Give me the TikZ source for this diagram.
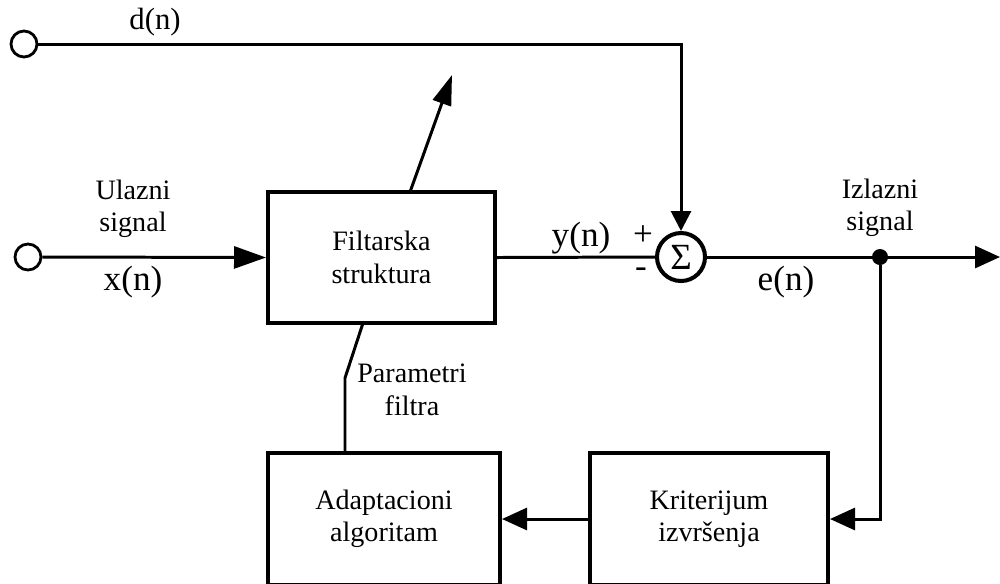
\documentclass[tikz,border=0pt]{standalone}
\usepackage{fontspec}
\setmainfont{Liberation Serif}
\usepackage{tikz}
\usetikzlibrary{arrows.meta, positioning}
\tikzstyle{block} = [rectangle, draw=black, line width=2.3pt, align=center, font=\fontsize{16}{18.5}\selectfont]
\tikzstyle{terminal} = [circle, draw=black, line width=1.6pt, minimum size=0.48cm, inner sep=0pt]
\tikzstyle{summer} = [circle, draw=black, line width=2.3pt, minimum size=0.96cm, inner sep=0pt, font=\fontsize{21}{21}\selectfont]
\tikzstyle{junction} = [circle, fill=black, minimum size=0.32cm, inner sep=0pt]
\tikzstyle{lbl} = [align=center, font=\fontsize{16}{18.5}\selectfont]
\tikzstyle{sig} = [font=\fontsize{20}{20}\selectfont]
\tikzstyle{sign} = [inner sep=0pt, font=\fontsize{20}{20}\selectfont]
\tikzstyle{line} = [line width=1.7pt]
\tikzstyle{arrow} = [line width=1.7pt, -{Triangle[length=0.5cm, width=0.44cm]}]

\begin{document}
\begin{tikzpicture}[x=0.02cm, y=-0.02cm]
\clip (0,0) rectangle (1000,583);

% Blocks
\node (filter) [block, minimum width=4.54cm, minimum height=2.62cm] at (381.5,257.5) {Filtarska\\struktura};
\node (adapt) [block, minimum width=4.64cm, minimum height=2.64cm] at (384,519) {Adaptacioni\\algoritam};
\node (krit) [block, minimum width=4.76cm, minimum height=2.64cm] at (709,519) {Kriterijum\\izvršenja};
\node (sum) [summer] at (681,257) {Σ};

% Terminals
\node (din) [terminal, minimum width=0.52cm] at (24,44) {};
\node (xin) [terminal, minimum width=0.52cm] at (28,257) {};
\node (dot) [junction] at (880,257) {};
\coordinate (out) at (1000,257);
\coordinate (tunetail) at (410,192);
\coordinate (tunetip) at (452,75);
\coordinate (partop) at (345,453);
\coordinate (parknee) at (345,378);
\coordinate (parbot) at (363,323);

% Labels
\node (dlabel) [font=\fontsize{17.5}{17.5}\selectfont] at (155,22) {d(n)};
\node (inlabel) [lbl] at (133,209) {Ulazni\\signal};
\node (xlabel) [sig] at (133,282) {x(n)};
\node (ylabel) [sig] at (581,238) {y(n)};
\node (plus) [sign] at (643,236) {+};
\node (minus) [sign] at (641,273) {-};
\node (elabel) [sig] at (786,282) {e(n)};
\node (outlabel) [lbl] at (880,208) {Izlazni\\signal};
\node (parlabel) [lbl] at (412,390) {Parametri\\filtra};

% Arrows
\draw [line, -{Triangle[length=0.4cm, width=0.4cm]}] (din.east) -| (sum.north);
\draw [arrow, -{Triangle[length=0.64cm, width=0.44cm]}] (xin.east) -- (filter.west);
\draw [line] (filter.east) -- (sum.west);
\draw [arrow] (sum.east) -- (out);
\draw [line] (sum.east) -- (dot);
\draw [arrow] (dot) |- (krit.east);
\draw [arrow] (krit.west) -- (adapt.east);
\draw [line] (partop) -- (parknee) -- (parbot);
\draw [arrow, -{Triangle[length=0.6cm, width=0.38cm]}] (tunetail) -- (tunetip);

\end{tikzpicture}
\end{document}
